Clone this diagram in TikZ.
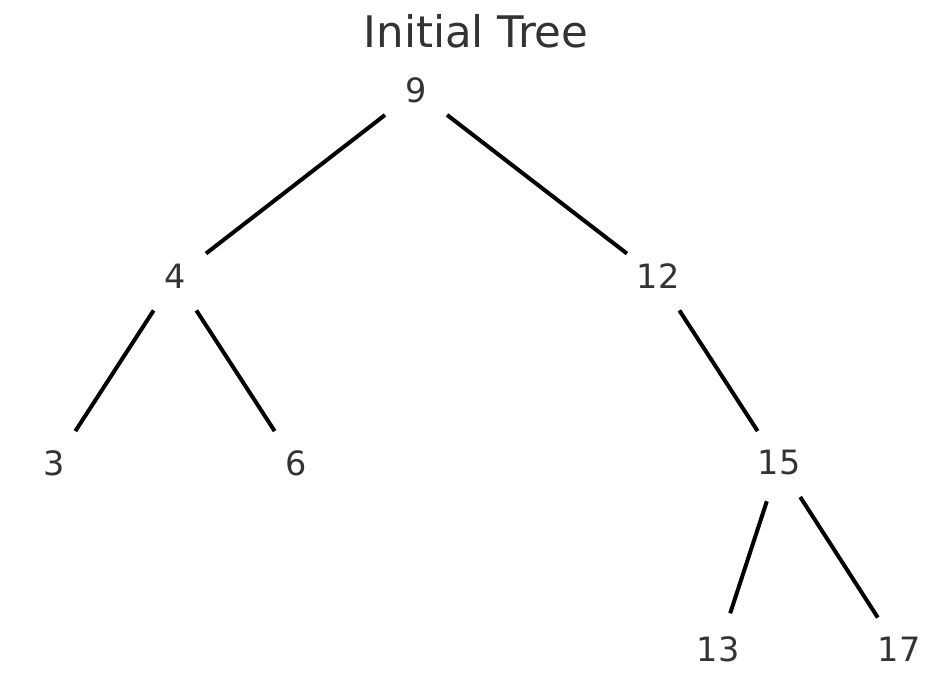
\documentclass[tikz,border=0pt]{standalone}
\usepackage{fontspec}
\setmainfont{DejaVu Sans}
\begin{document}
\begin{tikzpicture}[x=1bp,y=-1bp,
  vtx/.style={circle,minimum size=78bp,inner sep=0pt},
  num/.style={text=black!80,font=\fontsize{33.5bp}{36bp}\selectfont,inner sep=0pt},
  edge/.style={draw=black,line width=4bp}]
\useasboundingbox (0,0) rectangle (929,692);
\node[text=black!80,font=\fontsize{43.5bp}{46bp}\selectfont,anchor=base,inner sep=0pt] (title) at (476,48) {Initial Tree};
\foreach \n/\x/\y in {9/416/91, 4/175/277.5, 12/658/277.5, 3/54/464, 6/296/464, 15/779/464, 13/718/650.5, 17/899/650.5}{
  \node[vtx] (n\n) at (\x,\y) {};
  \node[num] (t\n) at ([yshift=1bp]n\n.center) {\n};
}
\draw[edge] (n9) -- (n4);
\draw[edge] (n9) -- (n12);
\draw[edge] (n4) -- (n3);
\draw[edge] (n4) -- (n6);
\draw[edge] (n12) -- (n15);
\draw[edge] (n15) -- (n13);
\draw[edge] (n15) -- (n17);
\end{tikzpicture}
\end{document}
